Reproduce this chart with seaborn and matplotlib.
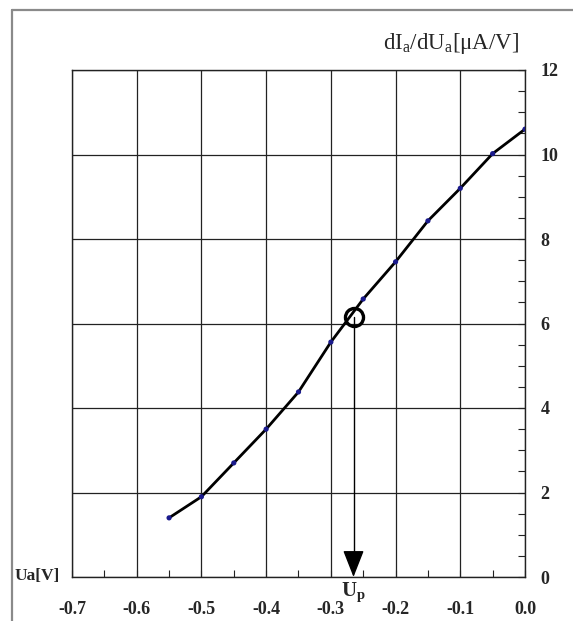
import matplotlib
matplotlib.use("Agg")
import matplotlib.pyplot as plt
from matplotlib.lines import Line2D
from matplotlib.ticker import MultipleLocator
import seaborn as sns
import pandas as pd

# Anode voltage and measured differential conductance
ua = [-0.55, -0.50, -0.45, -0.40, -0.35, -0.30, -0.25, -0.20, -0.15, -0.10, -0.05, 0.00]
dia = [1.40, 1.90, 2.70, 3.50, 4.38, 5.56, 6.58, 7.46, 8.43, 9.20, 10.02, 10.60]

# Marked operating point Up
up_x = -0.265
up_y = 6.15

x_ticks = [-0.7, -0.6, -0.5, -0.4, -0.3, -0.2, -0.1, 0.0]
x_tick_labels = ["-0.7", "-0.6", "-0.5", "-0.4", "-0.3", "-0.2", "-0.1", "0.0"]
y_ticks = [0, 2, 4, 6, 8, 10, 12]

df = pd.DataFrame({"Ua": ua, "dI": dia})

sns.set_theme(style="white")
plt.rcParams["font.family"] = ["Liberation Serif", "DejaVu Serif"]
plt.rcParams["mathtext.fontset"] = "custom"
plt.rcParams["mathtext.rm"] = "Liberation Serif"
plt.rcParams["mathtext.it"] = "Liberation Serif:italic"
plt.rcParams["mathtext.bf"] = "Liberation Serif:bold"

W, H = 573, 621
fig = plt.figure(figsize=(W / 100, H / 100), dpi=100)
fig.patch.set_facecolor("white")
ax = fig.add_axes([72 / W, 1 - 577 / H, 453 / W, 507 / H])

# Grid
for xv in x_ticks:
    ax.axvline(xv, color="#222222", lw=0.9, zorder=1)
for yv in y_ticks:
    ax.axhline(yv, color="#222222", lw=0.9, zorder=1)

sns.lineplot(data=df, x="Ua", y="dI", ax=ax, color="black", lw=2.0, zorder=3)
sns.scatterplot(data=df, x="Ua", y="dI", ax=ax, color="#1a1a8c", s=14,
                marker="o", edgecolor="none", zorder=4)

# Up marker: circle plus arrow down to the axis
ax.plot([up_x], [up_y], marker="o", ms=13, mfc="none", mec="black", mew=2.4, zorder=5)
ax.plot([up_x, up_x], [up_y, 0.6], color="black", lw=1.0, zorder=3)
ax.annotate("", xy=(up_x, 0.0), xytext=(up_x, 0.5),
            arrowprops=dict(arrowstyle="-|>,head_length=1.4,head_width=0.55",
                            color="black", lw=1.0, shrinkA=0, shrinkB=0), zorder=6)

ax.set_xlim(-0.7, 0.0)
ax.set_ylim(0, 12)
ax.set_xticks(x_ticks)
ax.set_xticklabels(x_tick_labels, fontsize=13, fontweight="bold")
ax.set_yticks(y_ticks)
ax.yaxis.tick_right()
ax.set_yticklabels([str(v) for v in y_ticks], fontsize=13, fontweight="bold")
ax.xaxis.set_minor_locator(MultipleLocator(0.05))
ax.yaxis.set_minor_locator(MultipleLocator(0.5))
ax.tick_params(axis="x", which="both", direction="in", length=5, width=0.8,
               color="#222222", pad=17, bottom=True, top=False)
ax.tick_params(axis="y", which="both", direction="in", length=5, width=0.8,
               color="#222222", pad=11, right=True, left=False)
ax.set_xlabel("")
ax.set_ylabel("")
for s in ax.spines.values():
    s.set_color("#222222")
    s.set_linewidth(1.0)

fig.text(519 / W, 1 - 43 / H, r"dI$_\mathrm{a}$/dU$_\mathrm{a}$[μA/V]",
         ha="right", va="center", fontsize=16.5)
fig.text(15 / W, 1 - 576 / H, "Ua[V]", ha="left", va="center",
         fontsize=12.5, fontweight="bold")
ax.annotate(r"U$_\mathbf{p}$", xy=(up_x, 0), xycoords="data",
            xytext=(0, -11), textcoords="offset points", ha="center", va="center",
            fontsize=15, fontweight="bold")

# Outer frame (top and left edges)
fig.add_artist(Line2D([12 / W, 1.0], [1 - 10 / H, 1 - 10 / H],
                      transform=fig.transFigure, color="#8a8a8a", lw=1.6))
fig.add_artist(Line2D([12 / W, 12 / W], [0.0, 1 - 10 / H],
                      transform=fig.transFigure, color="#8a8a8a", lw=1.6))

fig.savefig("out.png", dpi=100, facecolor="white")
